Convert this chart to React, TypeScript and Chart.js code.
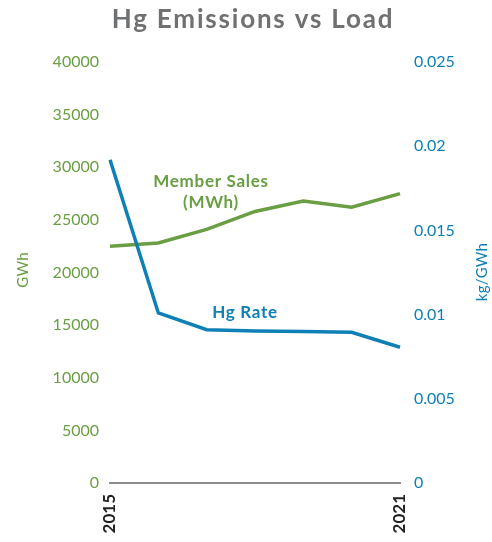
import React, { useEffect, useRef } from 'react';
import { Chart, registerables } from 'chart.js';

Chart.register(...registerables);

const years = ['2015', '2016', '2017', '2018', '2019', '2020', '2021'];
const memberSales = [22500, 22800, 24100, 25800, 26800, 26200, 27500];
const hgRate = [0.0192, 0.0101, 0.0091, 0.00903, 0.009, 0.00895, 0.00806];
const shownYears = ['2015', '2021'];

const GREEN = '#6a9e43';
const BLUE = '#0f80b6';
const FONT = 'Lato, "Open Sans", sans-serif';

const textPlugin = {
  id: 'textPlugin',
  afterDraw(chart: any) {
    const ctx = chart.ctx;
    ctx.save();
    // title
    ctx.fillStyle = '#6f7072';
    ctx.font = `bold 26px ${FONT}`;
    ctx.textAlign = 'center';
    ctx.textBaseline = 'middle';
    (ctx as any).letterSpacing = '1.8px';
    ctx.fillText('Hg Emissions vs Load', 253, 20);

    // axis titles
    (ctx as any).letterSpacing = '0.3px';
    ctx.font = `15px ${FONT}`;
    ctx.fillStyle = GREEN;
    ctx.save();
    ctx.translate(23, 270);
    ctx.rotate(-Math.PI / 2);
    ctx.fillText('GWh', 0, 0);
    ctx.restore();

    ctx.fillStyle = BLUE;
    ctx.save();
    ctx.translate(482, 272);
    ctx.rotate(-Math.PI / 2);
    ctx.fillText('kg/GWh', 0, 0);
    ctx.restore();

    // annotations
    (ctx as any).letterSpacing = '0.7px';
    ctx.font = `bold 17px ${FONT}`;
    ctx.fillStyle = GREEN;
    ctx.fillText('Member Sales', 211, 182);
    ctx.fillText('(MWh)', 211, 203);
    ctx.fillStyle = BLUE;
    ctx.fillText('Hg Rate', 245, 313);
    ctx.restore();
  },
};

export default function App() {
  const ref = useRef<HTMLCanvasElement>(null);

  useEffect(() => {
    if (!ref.current) return;
    const chart = new Chart(ref.current, {
      type: 'line',
      data: {
        labels: years,
        datasets: [
          {
            label: 'Hg Rate',
            data: hgRate,
            yAxisID: 'y1',
            borderColor: BLUE,
            backgroundColor: BLUE,
            borderWidth: 3.5,
            pointRadius: 0,
            tension: 0,
          },
          {
            label: 'Member Sales (MWh)',
            data: memberSales,
            yAxisID: 'y',
            borderColor: GREEN,
            backgroundColor: GREEN,
            borderWidth: 3.5,
            pointRadius: 0,
            tension: 0,
          },
        ],
      },
      options: {
        animation: false,
        responsive: true,
        maintainAspectRatio: false,
        layout: { padding: { top: 62, left: 0, right: 0, bottom: 0 } },
        plugins: {
          legend: { display: false },
          title: { display: false },
          tooltip: { enabled: false },
        },
        scales: {
          x: {
            offset: false,
            grid: { display: false, drawTicks: false },
            border: { display: true, color: '#8c8c8c', width: 2 },
            ticks: {
              autoSkip: false,
              maxRotation: 90,
              minRotation: 90,
              padding: 11,
              color: '#222222',
              font: { family: FONT, size: 17, weight: 'bold' },
              callback: (_v: any, i: number) =>
                shownYears.includes(years[i]) ? years[i] : '',
            },
            afterFit: (s: any) => {
              s.height = 59;
            },
          },
          y: {
            position: 'left',
            min: 0,
            max: 40000,
            grid: { display: false, drawTicks: false },
            border: { display: false },
            ticks: {
              stepSize: 5000,
              padding: 11,
              color: GREEN,
              font: { family: FONT, size: 16 },
              callback: (v: any) => String(v),
            },
            afterFit: (s: any) => {
              s.width = 110;
            },
          },
          y1: {
            position: 'right',
            min: 0,
            max: 0.025,
            grid: { display: false, drawTicks: false },
            border: { display: false },
            ticks: {
              stepSize: 0.005,
              padding: 14,
              color: BLUE,
              font: { family: FONT, size: 16 },
              callback: (v: any) => String(+Number(v).toFixed(3)),
            },
            afterFit: (s: any) => {
              s.width = 92;
            },
          },
        },
      },
      plugins: [textPlugin],
    });
    return () => chart.destroy();
  }, []);

  return (
    <div style={{ position: 'absolute', left: 0, top: 0, width: 492, height: 542 }}>
      <canvas ref={ref} />
    </div>
  );
}
